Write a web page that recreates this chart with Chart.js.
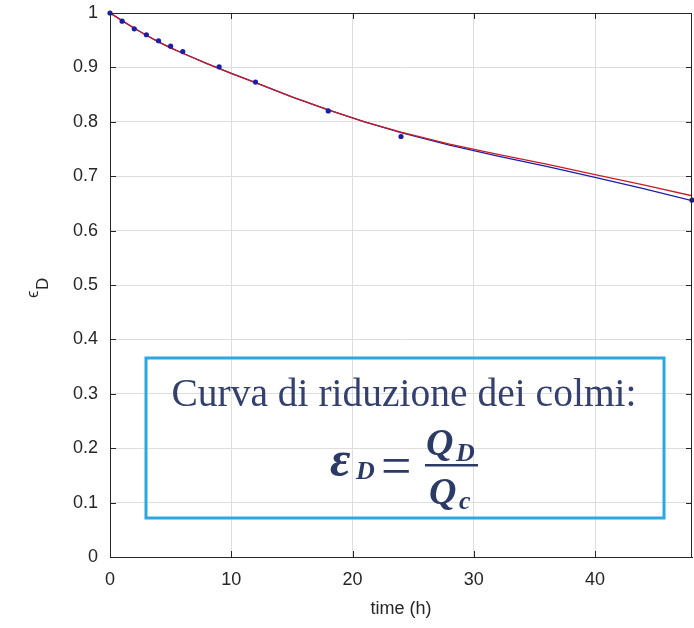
<!DOCTYPE html>
<html>
<head>
<meta charset="utf-8">
<script src="https://cdn.jsdelivr.net/npm/chart.js@4"></script>
<style>
  html, body { margin: 0; padding: 0; background: #fff; }
  #wrap { width: 694px; height: 628px; position: relative; }
</style>
</head>
<body>
<div id="wrap"><canvas id="chart" width="694" height="628"></canvas></div>
<script>
// misure (punti blu)
const obsTime = [0, 1, 2, 3, 4, 5, 6, 9, 12, 18, 24, 48];
const obsEps  = [1, 0.985, 0.971, 0.96, 0.949, 0.939, 0.929, 0.901, 0.873, 0.82, 0.773, 0.656];

// curve di interpolazione
const fitTime = [0, 1, 2, 3, 4, 5, 6, 8, 10, 12, 15, 18, 21, 24, 28, 32, 36, 40, 44, 48];
const fitBlue = [1, 0.986, 0.972, 0.959, 0.947, 0.936, 0.926, 0.907, 0.889, 0.872, 0.846, 0.822, 0.8, 0.78, 0.757, 0.737, 0.718, 0.698, 0.677, 0.655];
const fitRed  = [1, 0.986, 0.972, 0.959, 0.947, 0.936, 0.926, 0.907, 0.889, 0.872, 0.846, 0.822, 0.8, 0.781, 0.759, 0.74, 0.722, 0.703, 0.684, 0.664];

const xTicks = [0, 10, 20, 30, 40];
const yTicks = [0, 0.1, 0.2, 0.3, 0.4, 0.5, 0.6, 0.7, 0.8, 0.9, 1];

const axisColor = '#262626';
const gridColor = '#dedede';
const tickFont = { family: 'Liberation Sans, Arial, sans-serif', size: 18 };

function toXY(xs, ys) {
    return xs.map((x, i) => ({ x: x, y: ys[i] }));
}

// bordo completo + tacche interne stile MATLAB
const boxTicks = {
    id: 'boxTicks',
    afterDraw(chart) {
        const { ctx, chartArea: a, scales } = chart;
        ctx.save();
        ctx.strokeStyle = axisColor;
        ctx.lineWidth = 1;
        ctx.strokeRect(a.left + 0.5, a.top + 0.5, a.right - a.left - 1, a.bottom - a.top);
        ctx.beginPath();
        xTicks.forEach(v => {
            const px = Math.round(scales.x.getPixelForValue(v)) + 0.5;
            ctx.moveTo(px, a.bottom); ctx.lineTo(px, a.bottom - 6);
            ctx.moveTo(px, a.top); ctx.lineTo(px, a.top + 6);
        });
        yTicks.forEach(v => {
            const py = Math.round(scales.y.getPixelForValue(v)) + 0.5;
            ctx.moveTo(a.left, py); ctx.lineTo(a.left + 6, py);
            ctx.moveTo(a.right, py); ctx.lineTo(a.right - 6, py);
        });
        ctx.stroke();
        ctx.restore();
    }
};

// titolo asse y: epsilon con pedice D
const yTitle = {
    id: 'yTitle',
    afterDraw(chart) {
        const { ctx, chartArea: a } = chart;
        ctx.save();
        ctx.translate(38, (a.top + a.bottom) / 2 + 5);
        ctx.rotate(-Math.PI / 2);
        ctx.fillStyle = axisColor;
        ctx.textBaseline = 'alphabetic';
        ctx.textAlign = 'left';
        ctx.font = '17px "Liberation Sans", Arial, sans-serif';
        ctx.fillText('ϵ', -8, 0);
        ctx.fillText('D', 0, 10);
        ctx.restore();
    }
};

// riquadro con la definizione
const noteBox = {
    id: 'noteBox',
    afterDraw(chart) {
        const { ctx } = chart;
        ctx.save();
        ctx.strokeStyle = '#2aa8df';
        ctx.lineWidth = 3;
        ctx.strokeRect(146, 358, 518, 160);

        ctx.fillStyle = '#34406e';
        ctx.textAlign = 'center';
        ctx.textBaseline = 'alphabetic';
        ctx.font = '39.5px "Liberation Serif", "Times New Roman", serif';
        ctx.fillText('Curva di riduzione dei colmi:', 404, 406);

        ctx.fillStyle = '#2c3a66';
        ctx.textAlign = 'left';
        const bi = 'italic bold ';
        const fam = 'px "Liberation Serif", "Times New Roman", serif';
        ctx.font = bi + '50' + fam;
        ctx.fillText('ε', 330, 476);
        ctx.font = bi + '26' + fam;
        ctx.fillText('D', 356, 479);
        ctx.font = '54' + fam;
        ctx.fillText('=', 381, 484);
        ctx.font = bi + '38' + fam;
        ctx.fillText('Q', 426, 455);
        ctx.fillText('Q', 429, 504);
        ctx.font = bi + '26' + fam;
        ctx.fillText('D', 456, 461);
        ctx.fillText('c', 459, 509);
        ctx.fillRect(425, 464, 53, 2.5);
        ctx.restore();
    }
};

const ctx = document.getElementById('chart').getContext('2d');
new Chart(ctx, {
    type: 'scatter',
    data: {
        datasets: [
            {
                label: 'fit blu',
                data: toXY(fitTime, fitBlue),
                showLine: true,
                borderColor: '#1c1cb0',
                borderWidth: 1.3,
                pointRadius: 0,
                tension: 0,
                order: 3
            },
            {
                label: 'fit rosso',
                data: toXY(fitTime, fitRed),
                showLine: true,
                borderColor: '#c81e22',
                borderWidth: 1.3,
                pointRadius: 0,
                tension: 0,
                order: 2
            },
            {
                label: 'misure',
                data: toXY(obsTime, obsEps),
                showLine: false,
                pointRadius: 2.6,
                pointBackgroundColor: '#1d1da6',
                pointBorderWidth: 0,
                clip: false,
                order: 1
            }
        ]
    },
    options: {
        responsive: false,
        animation: false,
        layout: {
            autoPadding: false,
            padding: { top: 13, right: 2, left: 0, bottom: 0 }
        },
        plugins: {
            legend: { display: false },
            tooltip: { enabled: false }
        },
        scales: {
            x: {
                type: 'linear',
                min: 0,
                max: 48,
                afterBuildTicks: s => { s.ticks = xTicks.map(v => ({ value: v })); },
                afterFit: s => {
                    s.height = 71;
                    s.paddingLeft = 0;
                    s.paddingRight = 0;
                },
                grid: { color: gridColor, drawTicks: false },
                border: { color: axisColor },
                ticks: { color: axisColor, font: tickFont, padding: 12, maxRotation: 0 },
                title: {
                    display: true,
                    text: 'time (h)',
                    color: axisColor,
                    font: tickFont,
                    padding: { top: 0, bottom: 8 }
                }
            },
            y: {
                min: 0,
                max: 1,
                afterBuildTicks: s => { s.ticks = yTicks.map(v => ({ value: v })); },
                afterFit: s => {
                    s.width = 110;
                    s.paddingTop = 0;
                    s.paddingBottom = 0;
                },
                grid: { color: gridColor, drawTicks: false },
                border: { color: axisColor },
                ticks: {
                    color: axisColor,
                    font: tickFont,
                    padding: 12,
                    callback: v => String(+v.toFixed(1))
                }
            }
        }
    },
    plugins: [boxTicks, yTitle, noteBox]
});
</script>
</body>
</html>
